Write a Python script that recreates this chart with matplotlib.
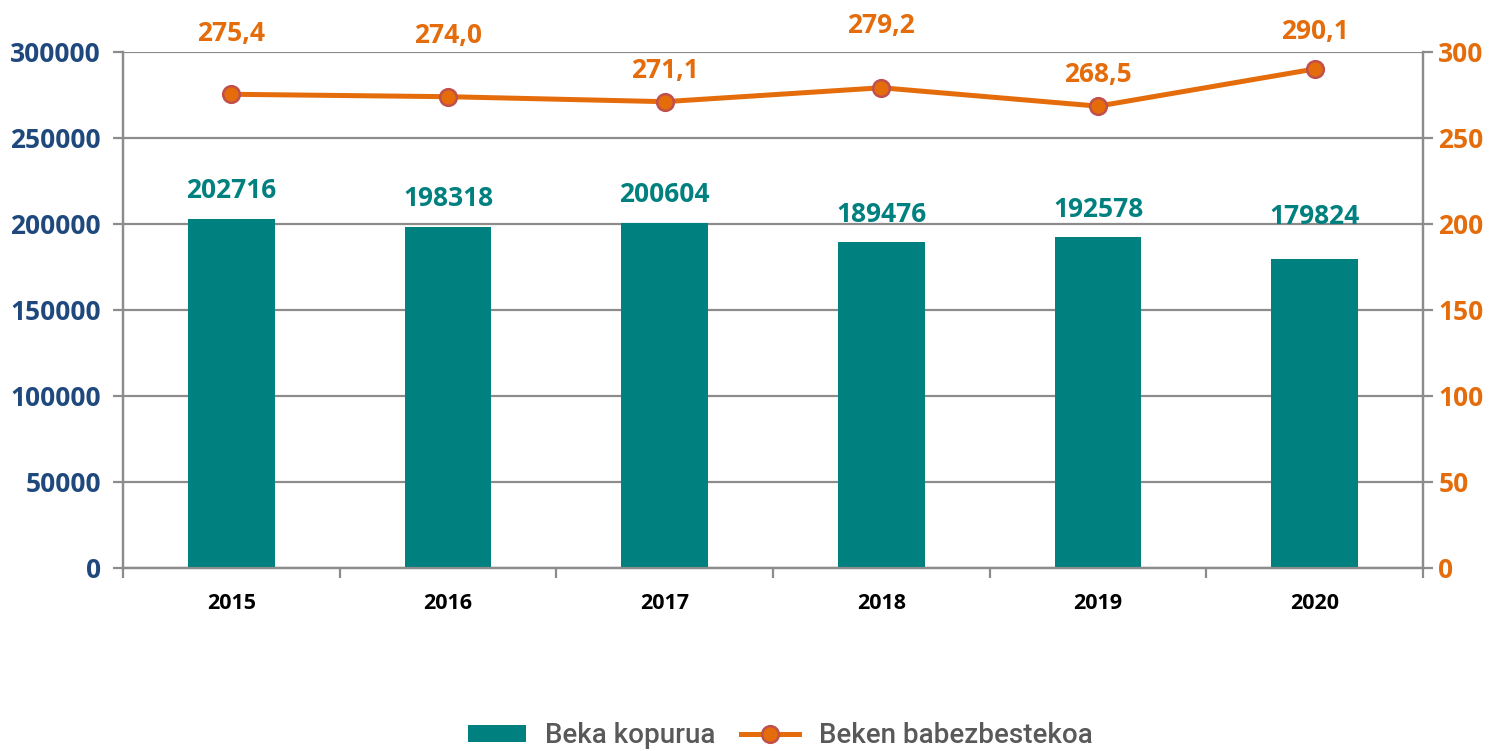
import matplotlib.pyplot as plt
import numpy as np

years = ["2015", "2016", "2017", "2018", "2019", "2020"]
beka_kopurua = [202716, 198318, 200604, 189476, 192578, 179824]
babezbestekoa = [275.4, 274.0, 271.1, 279.2, 268.5, 290.1]
babez_labels = ["275,4", "274,0", "271,1", "279,2", "268,5", "290,1"]

teal = "#00807F"
orange = "#E46C0A"
navy = "#1F497D"
grid_gray = "#8C8C8C"
lab_font = "Open Sans"

fig = plt.figure(figsize=(14.97, 7.51), dpi=100)
ax = fig.add_axes([0.0822, 0.2437, 0.8684, 0.6871])
ax2 = ax.twinx()

x = np.arange(len(years))
bars = ax.bar(x, beka_kopurua, width=0.4, color=teal, zorder=3,
              label="Beka kopurua")
ax.set_xlim(-0.5, len(years) - 0.5)
ax.set_ylim(0, 300000)
ax.set_yticks(np.arange(0, 300001, 50000))
ax.grid(axis="y", color=grid_gray, linewidth=1.6, zorder=0)
ax.set_axisbelow(True)

# label heights above each bar/point, in points (hand placed as in the original)
bar_offsets = [11, 11, 11, 10, 10, 21]
for xi, v, off in zip(x, beka_kopurua, bar_offsets):
    ax.annotate(str(v), (xi, v), xytext=(0, off), textcoords="offset points",
                ha="center", va="bottom", color=teal, fontsize=19,
                fontweight="bold", family=lab_font)

line, = ax2.plot(x, babezbestekoa, color=orange, linewidth=3.6,
                 marker="o", markersize=12, markerfacecolor=orange,
                 markeredgecolor="#C0504D", markeredgewidth=1.8,
                 label="Beken babezbestekoa", zorder=4)
ax2.set_ylim(0, 300)
ax2.set_yticks(np.arange(0, 301, 50))

label_offsets = [34, 34, 13, 35, 13, 17]
for xi, v, lab, off in zip(x, babezbestekoa, babez_labels, label_offsets):
    ax2.annotate(lab, (xi, v), xytext=(0, off), textcoords="offset points",
                 ha="center", va="bottom", color=orange, fontsize=19,
                 fontweight="bold", family=lab_font)

for a in (ax, ax2):
    a.spines["top"].set_visible(False)
    for s in ("left", "right", "bottom"):
        a.spines[s].set_color(grid_gray)
        a.spines[s].set_linewidth(1.6)

ax.set_xticks(x)
ax.set_xticklabels(years, fontsize=15.5, fontweight="bold", family=lab_font,
                   color="black")
ax.set_xticks(np.arange(-0.5, len(years)), minor=True)
ax.tick_params(axis="x", which="major", length=0, pad=18)
ax.tick_params(axis="x", which="minor", length=7, width=1.6,
               color=grid_gray)
ax.tick_params(axis="y", length=7, width=1.6, color=grid_gray,
               labelsize=19, labelcolor=navy, pad=9)
ax2.tick_params(axis="y", length=7, width=1.6, color=grid_gray,
                labelsize=19, labelcolor=orange, pad=4)
for t in ax.get_yticklabels() + ax2.get_yticklabels():
    t.set_fontweight("bold")
    t.set_family(lab_font)

leg = fig.legend([bars, line], ["Beka kopurua", "Beken babezbestekoa"],
                 loc="lower center", bbox_to_anchor=(0.521, -0.031), ncol=2,
                 frameon=False,
                 prop={"family": "Roboto", "size": 20, "weight": "medium"},
                 handlelength=2.1, handleheight=0.6, handletextpad=0.7,
                 columnspacing=0.9)
for t in leg.get_texts():
    t.set_color("#595959")

fig.savefig("out.png", dpi=100)
